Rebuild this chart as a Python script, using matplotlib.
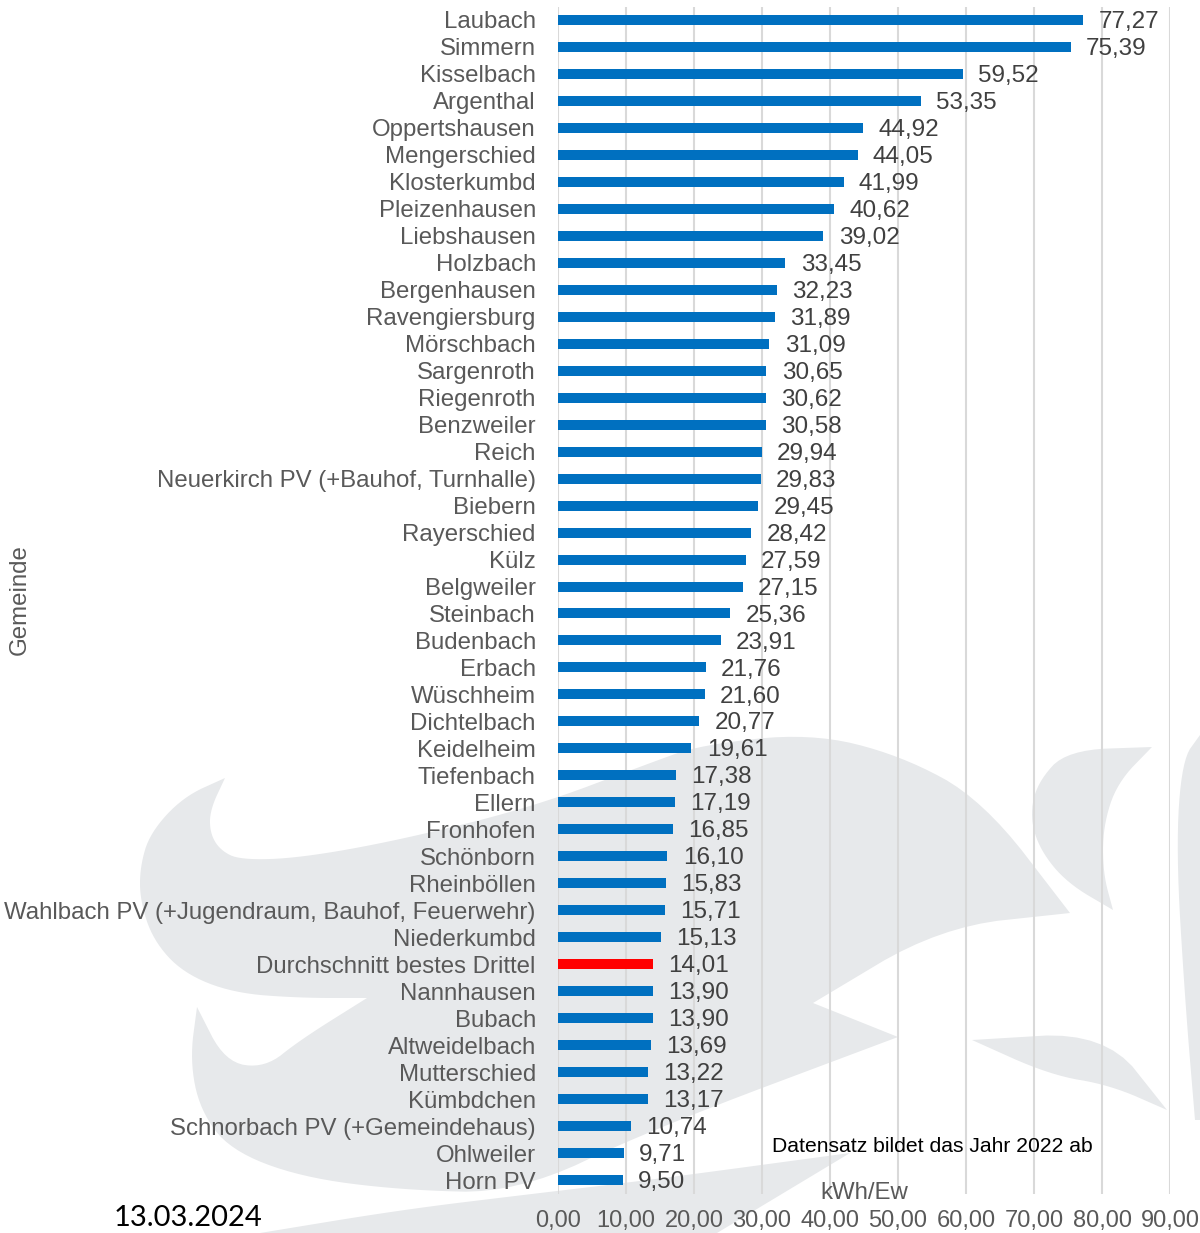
import matplotlib
matplotlib.use("Agg")
import matplotlib.pyplot as plt
from matplotlib.patches import Polygon

plt.rcParams['font.family'] = ['Liberation Sans', 'DejaVu Sans']

# Daten (kWh pro Einwohner, Jahr 2022)
gemeinden = [
    "Laubach", "Simmern", "Kisselbach", "Argenthal", "Oppertshausen",
    "Mengerschied", "Klosterkumbd", "Pleizenhausen", "Liebshausen", "Holzbach",
    "Bergenhausen", "Ravengiersburg", "Mörschbach", "Sargenroth", "Riegenroth",
    "Benzweiler", "Reich", "Neuerkirch PV (+Bauhof, Turnhalle)", "Biebern",
    "Rayerschied", "Külz", "Belgweiler", "Steinbach", "Budenbach", "Erbach",
    "Wüschheim", "Dichtelbach", "Keidelheim", "Tiefenbach", "Ellern",
    "Fronhofen", "Schönborn", "Rheinböllen",
    "Wahlbach PV (+Jugendraum, Bauhof, Feuerwehr)", "Niederkumbd",
    "Durchschnitt bestes Drittel", "Nannhausen", "Bubach", "Altweidelbach",
    "Mutterschied", "Kümbdchen", "Schnorbach PV (+Gemeindehaus)", "Ohlweiler",
    "Horn PV",
]
werte = [
    77.27, 75.39, 59.52, 53.35, 44.92, 44.05, 41.99, 40.62, 39.02, 33.45,
    32.23, 31.89, 31.09, 30.65, 30.62, 30.58, 29.94, 29.83, 29.45, 28.42,
    27.59, 27.15, 25.36, 23.91, 21.76, 21.60, 20.77, 19.61, 17.38, 17.19,
    16.85, 16.10, 15.83, 15.71, 15.13, 14.01, 13.90, 13.90, 13.69, 13.22,
    13.17, 10.74, 9.71, 9.50,
]
hervorgehoben = "Durchschnitt bestes Drittel"
x_ticks = [0, 10, 20, 30, 40, 50, 60, 70, 80, 90]

W, H = 1200, 1233
fig = plt.figure(figsize=(W / 100, H / 100), dpi=100)


# Wasserzeichen (Logo im Hintergrund), Koordinaten in Pixeln
def glaetten(pts, spitz, runden=3):
    # Chaikin-Glaettung, Spitzen (Indizes in spitz) bleiben scharf
    n = len(pts)
    start = spitz[0]
    order = pts[start:] + pts[:start]
    sp = sorted((i - start) % n for i in spitz)
    sp.append(n)
    out = []
    for a, b in zip(sp[:-1], sp[1:]):
        kette = [order[i % n] for i in range(a, b + 1)]
        for _ in range(runden):
            neu = [kette[0]]
            for p, q in zip(kette[:-1], kette[1:]):
                neu.append((0.75 * p[0] + 0.25 * q[0], 0.75 * p[1] + 0.25 * q[1]))
                neu.append((0.25 * p[0] + 0.75 * q[0], 0.25 * p[1] + 0.75 * q[1]))
            neu.append(kette[-1])
            kette = neu
        out.extend(kette[:-1])
    return [(x / W, 1 - y / H) for x, y in out]


logo = [
    # grosser Schwung links + Koerper
    ([(225, 778), (183, 797), (150, 833), (140, 867), (140, 900), (153, 940),
      (183, 973), (233, 993), (300, 998), (367, 998), (300, 1040), (265, 1068),
      (225, 1062), (197, 1007), (190, 1060), (200, 1110), (230, 1150),
      (300, 1177), (400, 1190), (517, 1193), (650, 1130), (898, 1037),
      (813, 1003), (940, 927), (1070, 913), (983, 800), (900, 755), (810, 733),
      (700, 745), (650, 763), (533, 807), (400, 840), (300, 858), (240, 860),
      (220, 850), (210, 833), (210, 810)], [0, 9, 13, 21, 22, 24]),
    # Sichel rechts
    ([(1152, 747), (1067, 750), (1037, 783), (1030, 817), (1040, 850),
      (1067, 883), (1113, 910), (1103, 873), (1103, 827), (1117, 783)], [0, 6]),
    # Rand rechts
    ([(1200, 735), (1182, 760), (1176, 850), (1185, 1000), (1195, 1120),
      (1200, 1120)], [0, 4, 5]),
    # Flosse unten rechts
    ([(972, 1040), (1105, 1032), (1167, 1110), (1110, 1085), (1050, 1075)],
     [0, 2]),
    # Streifen unten
    ([(850, 1153), (650, 1180), (523, 1195), (400, 1210), (260, 1233),
      (717, 1233)], [0, 4, 5]),
]
for pts, spitz in logo:
    fig.patches.append(Polygon(glaetten(pts, spitz), closed=True,
                               transform=fig.transFigure, facecolor="#e7e9eb",
                               edgecolor="none", zorder=-1))

ax = fig.add_axes([558 / W, 1 - 1193.5 / H, (1170 - 558) / W, (1193.5 - 6.5) / H])
ax.set_facecolor("none")

y = list(range(len(gemeinden)))
farben = ["#ff0000" if g == hervorgehoben else "#0070c0" for g in gemeinden]
ax.barh(y, werte, height=0.37, color=farben, zorder=3)

for i, v in enumerate(werte):
    ax.annotate(f"{v:.2f}".replace(".", ","), (v, i), xytext=(11, -1.5),
                textcoords="offset points", va="center", ha="left",
                fontsize=17.5, color="#404040")

ax.set_ylim(len(gemeinden) - 0.5, -0.5)
ax.set_xlim(0, 90)
ax.set_yticks(y)
ax.set_yticklabels(gemeinden, fontsize=17.3, color="#595959")
ax.set_xticks(x_ticks)
ax.set_xticklabels([f"{t:.2f}".replace(".", ",") for t in x_ticks],
                   fontsize=17, color="#595959")
ax.tick_params(axis="y", length=0, pad=16)
ax.tick_params(axis="x", length=0, pad=12)
ax.grid(axis="x", color="#d9d9d9", linewidth=1.5, zorder=0)
ax.set_axisbelow(True)
for s in ax.spines.values():
    s.set_visible(False)

fig.text(20 / W, 1 - 600 / H, "Gemeinde", rotation=90, ha="center", va="center",
         fontsize=17.3, color="#595959")
fig.text(864 / W, 1 - 1193 / H, "kWh/Ew", ha="center", va="center",
         fontsize=17.3, color="#595959")
fig.text(772 / W, 1 - 1147 / H, "Datensatz bildet das Jahr 2022 ab",
         ha="left", va="center", fontsize=15.2, color="black")
fig.text(188 / W, 1 - 1218 / H, "13.03.2024", ha="center", va="center",
         fontsize=21, color="black", family=["Lato", "DejaVu Sans"])

fig.savefig("out.png", dpi=100)
